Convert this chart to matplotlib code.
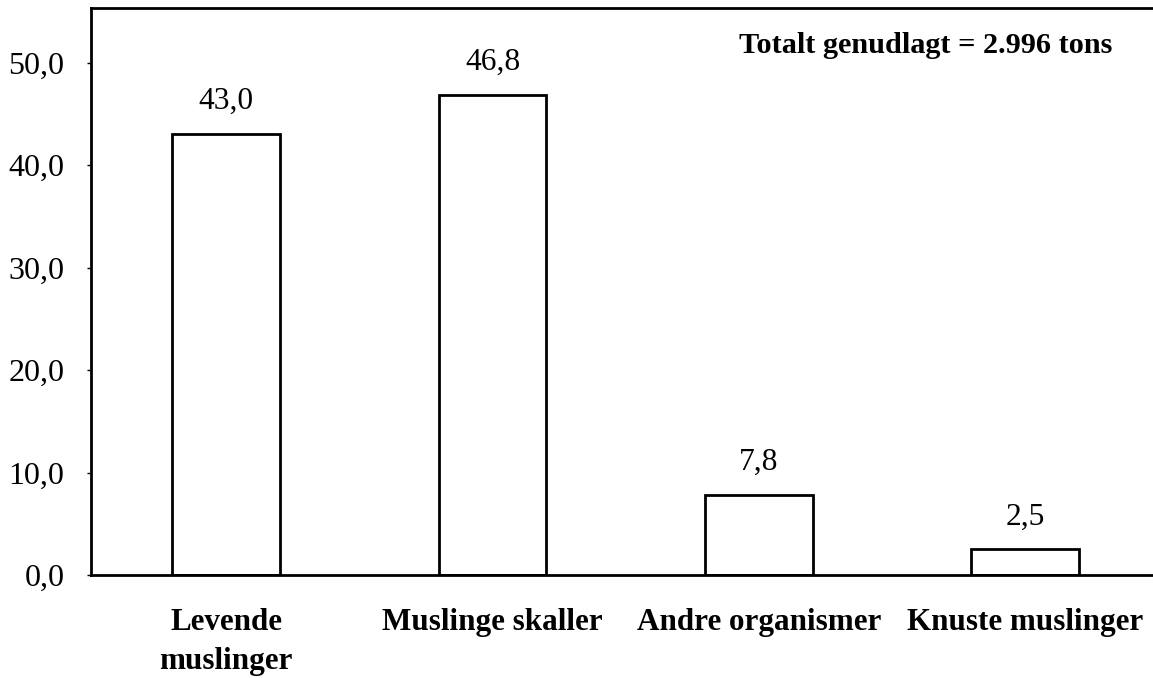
import matplotlib
matplotlib.use("Agg")
import matplotlib.pyplot as plt
from matplotlib.ticker import FuncFormatter

categories = ["Levende\nmuslinger", "Muslinge skaller", "Andre organismer", "Knuste muslinger"]
values = [43.0, 46.8, 7.8, 2.5]
value_labels = ["43,0", "46,8", "7,8", "2,5"]
yticks = [0, 10, 20, 30, 40, 50]
note = "Totalt genudlagt = 2.996 tons"

plt.rcParams['font.family'] = ['Liberation Serif', 'DejaVu Serif']

fig = plt.figure(figsize=(11.53, 6.78), dpi=100)
ax = fig.add_axes([0.0789, 0.1519, 0.926, 0.836])

x = list(range(len(categories)))
ax.bar(x, values, width=0.405, facecolor='white', edgecolor='black', linewidth=2)
for xi, v, lab in zip(x, values, value_labels):
    ax.annotate(lab, (xi, v), xytext=(0, 13), textcoords='offset points',
                ha='center', va='bottom', fontsize=22.7)

ax.set_xlim(-0.507, 3.5)
ax.set_ylim(0, 55.3)
ax.set_yticks(yticks)
ax.yaxis.set_major_formatter(FuncFormatter(lambda v, p: f"{v:.1f}".replace('.', ',')))
ax.tick_params(axis='y', labelsize=23, length=3, width=1, pad=16)
ax.set_xticks(x)
ax.set_xticklabels(categories, fontsize=22.4, fontweight='bold', linespacing=1.45, va='top')
ax.tick_params(axis='x', length=0, pad=24)
for s in ['left', 'top', 'bottom']:
    ax.spines[s].set_linewidth(2)
ax.spines['right'].set_visible(False)

ax.text(0.9565, 0.935, note, transform=ax.transAxes, ha='right', va='center',
        fontsize=21.8, fontweight='bold')

fig.savefig("out.png", dpi=100)
